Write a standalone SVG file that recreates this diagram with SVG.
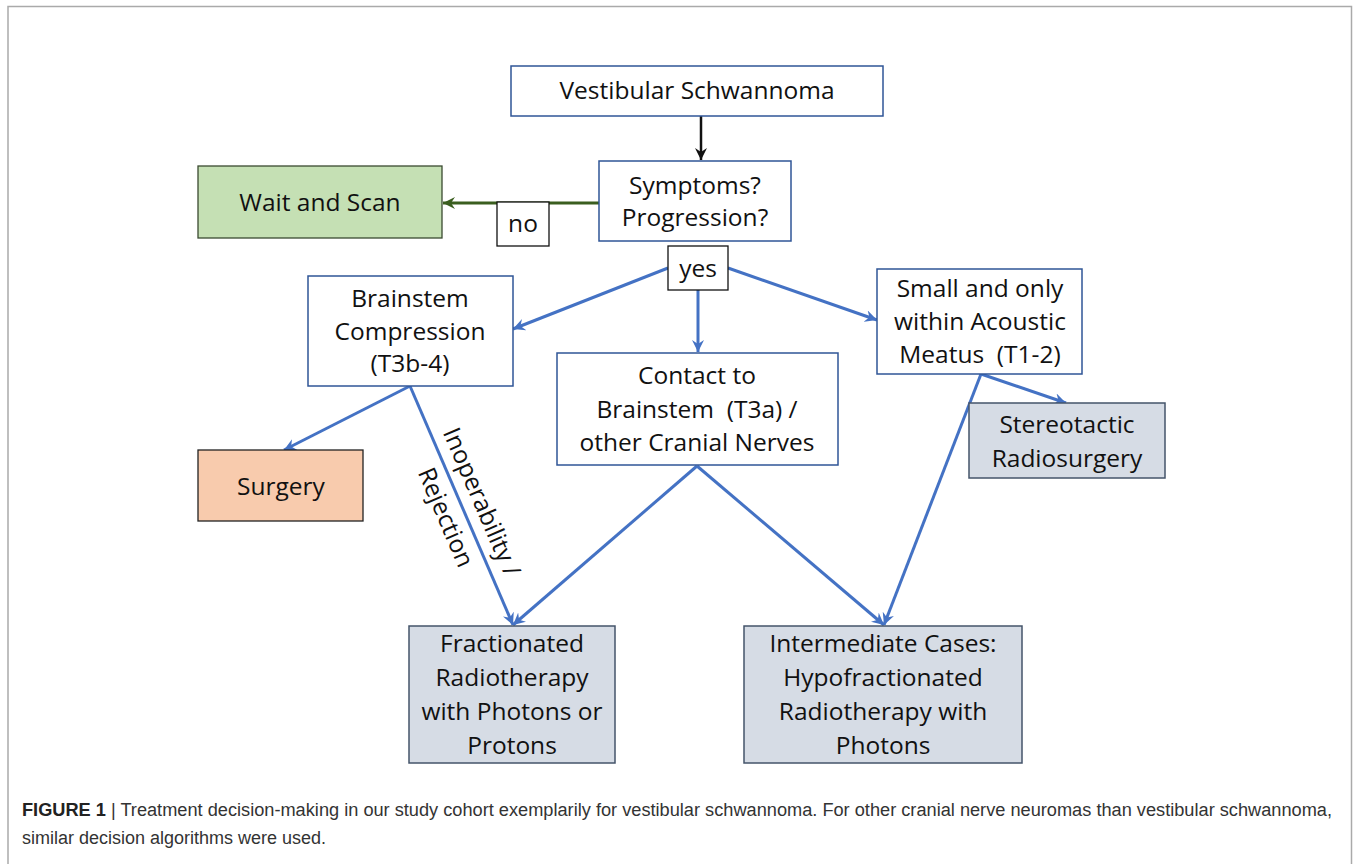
<svg xmlns="http://www.w3.org/2000/svg" width="1354" height="864" viewBox="0 0 1354 864">
<style>
.t{font-family:"Open Sans","Noto Sans","Liberation Sans",sans-serif;font-size:24.5px;fill:#111;text-anchor:middle}
.wb{fill:#fff;stroke:#2f5597;stroke-width:1.5}
.lb{fill:#fff;stroke:#111;stroke-width:1.3}
.gb{fill:#d6dce5;stroke:#44546a;stroke-width:1.5}
.bl{fill:none;stroke:#4472c4;stroke-width:3}
.cap{font-family:"Liberation Sans",Arial,sans-serif;font-size:18px;fill:#333}
</style>
<defs>
<marker id="ab" markerUnits="userSpaceOnUse" markerWidth="14" markerHeight="12" refX="12" refY="6" orient="auto"><path d="M0,0 L12,6 L0,12 L4,6 Z" fill="#4472c4"/></marker>
<marker id="ak" markerUnits="userSpaceOnUse" markerWidth="14" markerHeight="12" refX="12" refY="6" orient="auto"><path d="M0,0 L12,6 L0,12 L4,6 Z" fill="#111"/></marker>
<marker id="ag" markerUnits="userSpaceOnUse" markerWidth="14" markerHeight="12" refX="12" refY="6" orient="auto"><path d="M0,0 L12,6 L0,12 L4,6 Z" fill="#3a5e1f"/></marker>
</defs>
<rect x="0" y="0" width="1354" height="864" fill="#fff"/>
<path d="M8,870 V6.5 H1351.5 V870" fill="none" stroke="#aaa" stroke-width="1.5"/>

<g id="connectors">
<line x1="701" y1="116" x2="701" y2="160" stroke="#111" stroke-width="2.5" marker-end="url(#ak)"/>
<line x1="599" y1="203" x2="443" y2="203" stroke="#3a5e1f" stroke-width="3" marker-end="url(#ag)"/>
<line class="bl" x1="668" y1="268" x2="513" y2="329" marker-end="url(#ab)"/>
<line class="bl" x1="698" y1="290" x2="698" y2="352" marker-end="url(#ab)"/>
<line class="bl" x1="728" y1="268" x2="877" y2="320" marker-end="url(#ab)"/>
<line class="bl" x1="410" y1="386" x2="284" y2="450" marker-end="url(#ab)"/>
<line class="bl" x1="410" y1="386" x2="513" y2="625" marker-end="url(#ab)"/>
<line class="bl" x1="697" y1="466" x2="513" y2="625" marker-end="url(#ab)"/>
<line class="bl" x1="697" y1="466" x2="884" y2="625" marker-end="url(#ab)"/>
<line class="bl" x1="981" y1="374" x2="1066" y2="403" marker-end="url(#ab)"/>
<line class="bl" x1="981" y1="374" x2="884" y2="625" marker-end="url(#ab)"/>
<g transform="translate(463,510) rotate(66.7)">
<text class="t" x="0" y="-12">Inoperability /</text>
<text class="t" x="0" y="27">Rejection</text>
</g>
</g>

<g id="vs"><rect class="wb" x="511" y="66" width="372" height="50"/><text class="t" x="697" y="99">Vestibular Schwannoma</text></g>
<g id="symptoms"><rect class="wb" x="599" y="161" width="192" height="80"/><text class="t" x="695" y="194">Symptoms?</text><text class="t" x="695" y="226">Progression?</text></g>
<g id="wait"><rect x="198" y="166" width="244" height="72" fill="#c5e0b4" stroke="#3a4a30" stroke-width="1.3"/><text class="t" x="320" y="211">Wait and Scan</text></g>
<g id="no"><rect class="lb" x="497" y="202" width="52" height="44"/><text class="t" x="523" y="232">no</text></g>
<g id="yes"><rect class="lb" x="668" y="246" width="60" height="44"/><text class="t" x="698" y="277">yes</text></g>
<g id="brainstem"><rect class="wb" x="308" y="276" width="205" height="110"/><text class="t" x="410" y="307">Brainstem</text><text class="t" x="410" y="340">Compression</text><text class="t" x="410" y="372">(T3b-4)</text></g>
<g id="contact"><rect class="wb" x="557" y="353" width="281" height="112"/><text class="t" x="697" y="384">Contact to</text><text class="t" x="697" y="418">Brainstem&#160; (T3a) /</text><text class="t" x="697" y="451">other Cranial Nerves</text></g>
<g id="small"><rect class="wb" x="877" y="269" width="205" height="105"/><text class="t" x="980" y="297">Small and only</text><text class="t" x="980" y="330">within Acoustic</text><text class="t" x="980" y="363">Meatus&#160; (T1-2)</text></g>
<g id="srs"><rect class="gb" x="969" y="403" width="196" height="75"/><text class="t" x="1067" y="433">Stereotactic</text><text class="t" x="1067" y="467">Radiosurgery</text></g>
<g id="surgery"><rect x="198" y="450" width="165" height="71" fill="#f8cbad" stroke="#222" stroke-width="1.3"/><text class="t" x="281" y="495">Surgery</text></g>
<g id="frt"><rect class="gb" x="409" y="626" width="206" height="137"/><text class="t" x="512" y="652">Fractionated</text><text class="t" x="512" y="686">Radiotherapy</text><text class="t" x="512" y="720">with Photons or</text><text class="t" x="512" y="754">Protons</text></g>
<g id="hfrt"><rect class="gb" x="744" y="626" width="278" height="137"/><text class="t" x="883" y="652">Intermediate Cases:</text><text class="t" x="883" y="686">Hypofractionated</text><text class="t" x="883" y="720">Radiotherapy with</text><text class="t" x="883" y="754">Photons</text></g>

<g id="caption">
<text class="cap" x="22" y="816" textLength="1310" lengthAdjust="spacingAndGlyphs"><tspan font-weight="bold" fill="#222">FIGURE 1</tspan> | Treatment decision-making in our study cohort exemplarily for vestibular schwannoma. For other cranial nerve neuromas than vestibular schwannoma,</text>
<text class="cap" x="22" y="844">similar decision algorithms were used.</text>
</g>
</svg>
